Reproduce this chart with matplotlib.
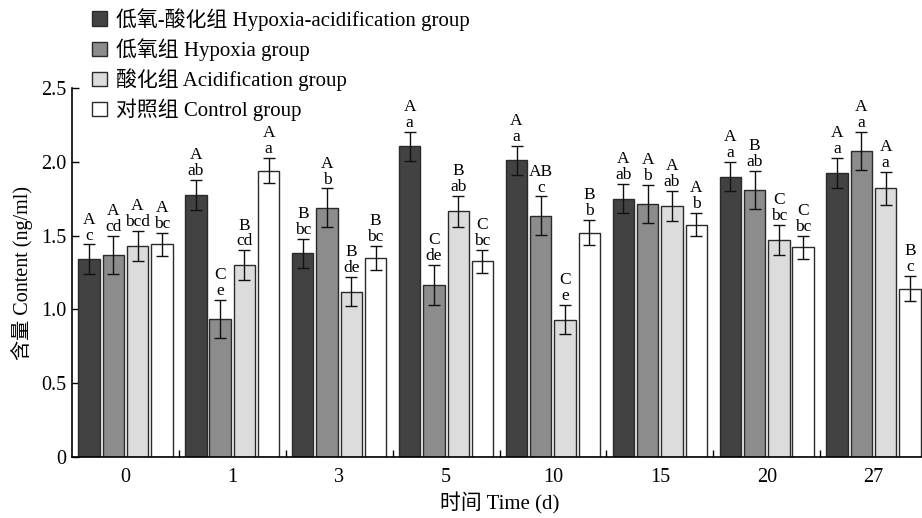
import numpy as np
import matplotlib.pyplot as plt
from matplotlib.ticker import FixedLocator

plt.rcParams['font.family'] = ['Liberation Serif', 'Noto Sans CJK SC']
plt.rcParams['axes.unicode_minus'] = False

days = ['0', '1', '3', '5', '10', '15', '20', '27']
groups = ['低氧-酸化组 Hypoxia-acidification group', '低氧组 Hypoxia group',
          '酸化组 Acidification group', '对照组 Control group']

hyp_acid = [1.34, 1.775, 1.38, 2.105, 2.01, 1.75, 1.90, 1.925]
hypoxia = [1.37, 0.935, 1.69, 1.165, 1.635, 1.715, 1.81, 2.075]
acid = [1.43, 1.30, 1.12, 1.665, 0.93, 1.70, 1.47, 1.82]
control = [1.44, 1.94, 1.35, 1.325, 1.52, 1.575, 1.42, 1.14]

err_hyp_acid = [0.10, 0.10, 0.10, 0.10, 0.10, 0.10, 0.10, 0.10]
err_hypoxia = [0.13, 0.13, 0.13, 0.135, 0.13, 0.13, 0.13, 0.13]
err_acid = [0.10, 0.10, 0.10, 0.105, 0.10, 0.10, 0.10, 0.11]
err_control = [0.08, 0.085, 0.08, 0.08, 0.085, 0.08, 0.08, 0.085]

upper_hyp_acid = ['A', 'A', 'B', 'A', 'A', 'A', 'A', 'A']
upper_hypoxia = ['A', 'C', 'A', 'C', 'AB', 'A', 'B', 'A']
upper_acid = ['A', 'B', 'B', 'B', 'C', 'A', 'C', 'A']
upper_control = ['A', 'A', 'B', 'C', 'B', 'A', 'C', 'B']

lower_hyp_acid = ['c', 'ab', 'bc', 'a', 'a', 'ab', 'a', 'a']
lower_hypoxia = ['cd', 'e', 'b', 'de', 'c', 'b', 'ab', 'a']
lower_acid = ['bcd', 'cd', 'de', 'ab', 'e', 'ab', 'bc', 'a']
lower_control = ['bc', 'a', 'bc', 'bc', 'b', 'b', 'bc', 'c']

values = [hyp_acid, hypoxia, acid, control]
errors = [err_hyp_acid, err_hypoxia, err_acid, err_control]
uppers = [upper_hyp_acid, upper_hypoxia, upper_acid, upper_control]
lowers = [lower_hyp_acid, lower_hypoxia, lower_acid, lower_control]
colors = ['#424242', '#8c8c8c', '#dcdcdc', '#ffffff']

fig = plt.figure(figsize=(9.22, 5.18), dpi=100)
ax = fig.add_axes([72 / 922, 61 / 518, 855 / 922, 369 / 518])

x = np.arange(len(days))
width = 0.2
pitch = 0.227

handles = []
for i in range(4):
    pos = x + (i - 1.5) * pitch
    b = ax.bar(pos, values[i], width, color=colors[i], edgecolor='#2a2a2a',
               linewidth=1.0, label=groups[i], zorder=2)
    handles.append(b)
    ax.errorbar(pos, values[i], yerr=errors[i], fmt='none', ecolor='#111111',
                elinewidth=1.0, capsize=4.5, capthick=1.0, zorder=3)
    for j in range(len(days)):
        top = values[i][j] + errors[i][j]
        ax.annotate(lowers[i][j], (pos[j], top), xytext=(0, 3.5),
                    textcoords='offset points', ha='center', va='baseline',
                    fontsize=12.5)
        ax.annotate(uppers[i][j], (pos[j], top), xytext=(0, 15),
                    textcoords='offset points', ha='center', va='baseline',
                    fontsize=12.5)

ax.set_xlim(-0.5, 7.5)
ax.set_ylim(0, 2.5)
ax.set_xticks(x)
ax.set_xticklabels(days, fontsize=14.5)
ax.xaxis.set_minor_locator(FixedLocator(np.arange(0.5, 7.5, 1)))
ax.tick_params(axis='x', which='major', length=0, pad=8)
ax.tick_params(axis='x', which='minor', direction='in', length=5, width=1)
ax.set_yticks([0, 0.5, 1.0, 1.5, 2.0, 2.5])
ax.set_yticklabels(['0', '0.5', '1.0', '1.5', '2.0', '2.5'], fontsize=14.5)
ax.tick_params(axis='y', direction='in', length=5, width=1, pad=4)

for s in ['top', 'right']:
    ax.spines[s].set_visible(False)
for s in ['left', 'bottom']:
    ax.spines[s].set_linewidth(1.2)

ax.set_xlabel('时间 Time (d)', fontsize=15, labelpad=4)
ax.set_ylabel('含量 Content (ng/ml)', fontsize=14.5, labelpad=6)

fig.legend(handles, groups, loc='upper left', bbox_to_anchor=(92 / 922, 1 - 8 / 518),
           frameon=False, fontsize=15, handlelength=0.7, handleheight=0.7,
           handletextpad=0.45, labelspacing=0.36, borderaxespad=0, borderpad=0)

fig.savefig('out.png', dpi=100)
